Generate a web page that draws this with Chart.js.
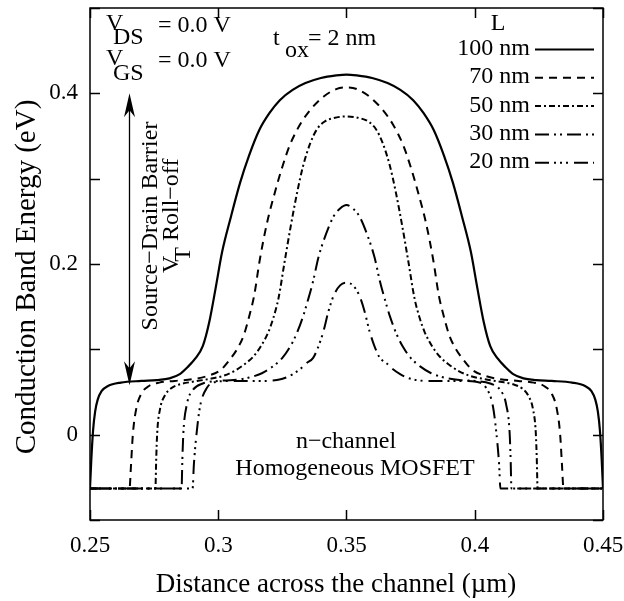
<!DOCTYPE html>
<html>
<head>
<meta charset="utf-8">
<script src="https://cdn.jsdelivr.net/npm/chart.js@4.4.1/dist/chart.umd.min.js"></script>
<style>
  html, body { margin: 0; padding: 0; background: #fff; }
  #wrap { width: 624px; height: 601px; }
</style>
</head>
<body>
<div id="wrap"><canvas id="c" width="624" height="601"></canvas></div>
<script>
// Gate lengths shown in the legend
const gateLengths = ['100 nm', '70 nm', '50 nm', '30 nm', '20 nm'];

// Conduction band profile, L = 100 nm
const x100 = [0.2500, 0.2505, 0.2512, 0.2520, 0.2530, 0.2545, 0.2570, 0.2620, 0.2700, 0.2760, 0.2810, 0.2850, 0.2880, 0.2910, 0.2940, 0.2965, 0.2990, 0.3015, 0.3050, 0.3085, 0.3120, 0.3160, 0.3200, 0.3240, 0.3290, 0.3340, 0.3400, 0.3460, 0.3500,
              0.3540, 0.3600, 0.3660, 0.3710, 0.3760, 0.3800, 0.3840, 0.3880, 0.3915, 0.3950, 0.3985, 0.4010, 0.4035, 0.4060, 0.4090, 0.4120, 0.4150, 0.4190, 0.4240, 0.4300, 0.4380, 0.4430, 0.4455, 0.4470, 0.4480, 0.4488, 0.4495, 0.4500];
const y100 = [-0.063, -0.030, 0.005, 0.027, 0.041, 0.051, 0.057, 0.061, 0.063, 0.064, 0.066, 0.071, 0.079, 0.089, 0.104, 0.132, 0.172, 0.214, 0.256, 0.295, 0.327, 0.357, 0.377, 0.392, 0.404, 0.412, 0.418, 0.421, 0.422,
              0.421, 0.418, 0.412, 0.404, 0.392, 0.377, 0.357, 0.327, 0.295, 0.256, 0.214, 0.172, 0.132, 0.104, 0.089, 0.079, 0.071, 0.066, 0.064, 0.063, 0.061, 0.057, 0.051, 0.041, 0.027, 0.005, -0.030, -0.063];

// L = 70 nm
const x70 = [0.2500, 0.2654, 0.2660, 0.2667, 0.2680, 0.2700, 0.2730, 0.2770, 0.2830, 0.2900, 0.2960, 0.3010, 0.3045, 0.3075, 0.3100, 0.3120, 0.3140, 0.3162, 0.3190, 0.3220, 0.3250, 0.3280, 0.3320, 0.3360, 0.3410, 0.3460, 0.3500,
             0.3540, 0.3590, 0.3640, 0.3680, 0.3720, 0.3750, 0.3780, 0.3810, 0.3838, 0.3860, 0.3880, 0.3900, 0.3925, 0.3955, 0.3990, 0.4040, 0.4100, 0.4170, 0.4230, 0.4270, 0.4300, 0.4320, 0.4333, 0.4340, 0.4346, 0.4500];
const y70 = [-0.063, -0.063, -0.035, 0.000, 0.030, 0.048, 0.057, 0.061, 0.063, 0.065, 0.069, 0.076, 0.088, 0.101, 0.117, 0.138, 0.163, 0.205, 0.248, 0.283, 0.314, 0.340, 0.364, 0.381, 0.396, 0.405, 0.407,
             0.405, 0.396, 0.381, 0.364, 0.340, 0.314, 0.283, 0.248, 0.205, 0.163, 0.138, 0.117, 0.101, 0.088, 0.076, 0.069, 0.065, 0.063, 0.061, 0.057, 0.048, 0.030, 0.000, -0.035, -0.063, -0.063];

// L = 50 nm
const x50 = [0.2500, 0.2755, 0.2758, 0.2762, 0.2773, 0.2790, 0.2815, 0.2850, 0.2900, 0.2960, 0.3020, 0.3065, 0.3100, 0.3135, 0.3165, 0.3195, 0.3215, 0.3235, 0.3260, 0.3283, 0.3307, 0.3330, 0.3358, 0.3385, 0.3415, 0.3450, 0.3500,
             0.3550, 0.3585, 0.3615, 0.3642, 0.3670, 0.3693, 0.3717, 0.3740, 0.3765, 0.3785, 0.3805, 0.3835, 0.3865, 0.3900, 0.3935, 0.3980, 0.4040, 0.4100, 0.4150, 0.4185, 0.4210, 0.4227, 0.4238, 0.4242, 0.4245, 0.4500];
const y50 = [-0.063, -0.063, -0.030, 0.002, 0.030, 0.045, 0.054, 0.059, 0.062, 0.065, 0.069, 0.075, 0.082, 0.091, 0.103, 0.120, 0.137, 0.160, 0.205, 0.245, 0.283, 0.314, 0.341, 0.358, 0.367, 0.371, 0.373,
             0.371, 0.367, 0.358, 0.341, 0.314, 0.283, 0.245, 0.205, 0.160, 0.137, 0.120, 0.103, 0.091, 0.082, 0.075, 0.069, 0.065, 0.062, 0.059, 0.054, 0.045, 0.030, 0.002, -0.030, -0.063, -0.063];

// L = 30 nm
const x30 = [0.2500, 0.2857, 0.2860, 0.2864, 0.2878, 0.2900, 0.2940, 0.3000, 0.3060, 0.3120, 0.3170, 0.3213, 0.3250, 0.3280, 0.3305, 0.3330, 0.3350, 0.3370, 0.3390, 0.3420, 0.3450, 0.3475, 0.3500,
             0.3525, 0.3550, 0.3580, 0.3610, 0.3630, 0.3650, 0.3670, 0.3695, 0.3720, 0.3750, 0.3787, 0.3830, 0.3880, 0.3940, 0.4000, 0.4060, 0.4100, 0.4122, 0.4136, 0.4140, 0.4143, 0.4500];
const y30 = [-0.063, -0.063, -0.030, 0.002, 0.036, 0.052, 0.060, 0.063, 0.064, 0.067, 0.072, 0.080, 0.090, 0.103, 0.118, 0.138, 0.158, 0.180, 0.207, 0.235, 0.256, 0.265, 0.269,
             0.265, 0.256, 0.235, 0.207, 0.180, 0.158, 0.138, 0.118, 0.103, 0.090, 0.080, 0.072, 0.067, 0.064, 0.063, 0.060, 0.052, 0.036, 0.002, -0.030, -0.063, -0.063];

// L = 20 nm
const x20 = [0.2500, 0.2900, 0.2905, 0.2915, 0.2929, 0.2956, 0.2995, 0.3050, 0.3120, 0.3180, 0.3229, 0.3265, 0.3291, 0.3320, 0.3345, 0.3370, 0.3390, 0.3410, 0.3430, 0.3450, 0.3475, 0.3500,
             0.3525, 0.3550, 0.3570, 0.3590, 0.3610, 0.3630, 0.3655, 0.3680, 0.3709, 0.3735, 0.3771, 0.3820, 0.3880, 0.3950, 0.4005, 0.4044, 0.4071, 0.4085, 0.4095, 0.4100, 0.4500];
const y20 = [-0.063, -0.063, -0.035, 0.000, 0.033, 0.055, 0.062, 0.063, 0.063, 0.063, 0.064, 0.067, 0.071, 0.077, 0.084, 0.090, 0.103, 0.121, 0.145, 0.163, 0.175, 0.178,
             0.175, 0.163, 0.145, 0.121, 0.103, 0.090, 0.084, 0.077, 0.071, 0.067, 0.064, 0.063, 0.063, 0.063, 0.062, 0.055, 0.033, 0.000, -0.035, -0.063, -0.063];

// Axis ticks
const xTickValues = [0.25, 0.30, 0.35, 0.40, 0.45];
const yTickValues = [-0.1, 0, 0.1, 0.2, 0.3, 0.4, 0.5];
const yLabelled = [0, 0.2, 0.4];

const seriesX = [x100, x70, x50, x30, x20];
const seriesY = [y100, y70, y50, y30, y20];
const dashes = [[], [8, 6], [6, 3, 2, 3], [14, 5, 2, 4, 2, 5], [14, 5, 2, 4, 2, 4, 2, 6]];

const SERIF = '"Liberation Serif", "Times New Roman", serif';

const datasets = seriesX.map((xs, i) => ({
  label: gateLengths[i],
  data: xs.map((x, k) => ({ x: x, y: seriesY[i][k] })),
  borderColor: '#000',
  borderWidth: i === 0 ? 2.2 : 2,
  borderDash: dashes[i],
  pointRadius: 0,
  fill: false,
  cubicInterpolationMode: 'monotone'
}));

function font(size) { return size + 'px ' + SERIF; }

// Frame, inward ticks, annotations and the legend
const decor = {
  id: 'decor',
  afterDraw(chart) {
    const ctx = chart.ctx;
    const a = chart.chartArea;
    const xs = chart.scales.x, ys = chart.scales.y;
    ctx.save();
    ctx.strokeStyle = '#000';
    ctx.fillStyle = '#000';
    ctx.lineWidth = 1.5;
    ctx.setLineDash([]);
    ctx.strokeRect(a.left, a.top, a.right - a.left, a.bottom - a.top);

    const T = 10;
    ctx.beginPath();
    xTickValues.forEach(v => {
      const p = Math.round(xs.getPixelForValue(v)) + 0.5;
      ctx.moveTo(p, a.bottom); ctx.lineTo(p, a.bottom - T);
      ctx.moveTo(p, a.top); ctx.lineTo(p, a.top + T);
    });
    yTickValues.forEach(v => {
      const p = Math.round(ys.getPixelForValue(v)) + 0.5;
      ctx.moveTo(a.left, p); ctx.lineTo(a.left + T, p);
      ctx.moveTo(a.right, p); ctx.lineTo(a.right - T, p);
    });
    ctx.stroke();

    ctx.textBaseline = 'alphabetic';
    ctx.textAlign = 'left';
    const put = (s, x, y, size, align) => {
      ctx.font = font(size);
      ctx.textAlign = align || 'left';
      ctx.fillText(s, x, y);
    };

    // Bias conditions
    put('V', 106, 30, 24); put('DS', 113, 44, 24); put('= 0.0 V', 158, 32, 24);
    put('V', 106, 65, 24); put('GS', 113, 80, 24); put('= 0.0 V', 158, 67, 24);
    // Oxide thickness
    put('t', 273, 45, 24); put('ox', 285, 57, 24); put('= 2 nm', 308, 45, 24);
    // Device description
    put('n\u2212channel', 346, 448, 24, 'center');
    put('Homogeneous MOSFET', 355, 475, 24, 'center');

    // Legend
    put('L', 498, 30, 24, 'center');
    gateLengths.forEach((lab, i) => {
      const base = 55 + i * 28.3;
      put(lab, 530, base, 24, 'right');
      ctx.beginPath();
      ctx.lineWidth = 2;
      ctx.setLineDash(dashes[i]);
      ctx.moveTo(535, base - 5.5);
      ctx.lineTo(594, base - 5.5);
      ctx.stroke();
    });
    ctx.setLineDash([]);

    // Barrier height arrow
    const ax = Math.round(xs.getPixelForValue(0.2652)) + 0.5;
    const yTop = ys.getPixelForValue(0.400);
    const yBot = ys.getPixelForValue(0.058);
    ctx.lineWidth = 1.3;
    ctx.beginPath();
    ctx.moveTo(ax, yTop + 8); ctx.lineTo(ax, yBot - 8);
    ctx.stroke();
    const head = (tipY, dir) => {
      ctx.beginPath();
      ctx.moveTo(ax, tipY);
      ctx.lineTo(ax - 5.5, tipY + dir * 24);
      ctx.lineTo(ax, tipY + dir * 17);
      ctx.lineTo(ax + 5.5, tipY + dir * 24);
      ctx.closePath();
      ctx.fill();
    };
    head(yTop, 1);
    head(yBot, -1);

    // Rotated annotation beside the arrow
    ctx.save();
    ctx.translate(157, 226);
    ctx.rotate(-Math.PI / 2);
    put('Source\u2212Drain Barrier', 0, 0, 24, 'center');
    ctx.restore();

    ctx.save();
    ctx.translate(178, 273);
    ctx.rotate(-Math.PI / 2);
    ctx.font = font(24);
    ctx.textAlign = 'left';
    ctx.fillText('V', 0, 0);
    const vw = ctx.measureText('V').width;
    ctx.fillText('T', vw - 6, 12);
    const tw = ctx.measureText('T').width;
    ctx.fillText(' Roll\u2212off', vw - 6 + tw, 0);
    ctx.restore();

    // Axis titles
    put('Distance across the channel (\u00b5m)', 336, 592, 27, 'center');
    ctx.save();
    ctx.translate(35, 277);
    ctx.rotate(-Math.PI / 2);
    put('Conduction Band Energy (eV)', 0, 0, 29, 'center');
    ctx.restore();

    ctx.restore();
  }
};

new Chart(document.getElementById('c').getContext('2d'), {
  type: 'line',
  data: { datasets: datasets },
  options: {
    responsive: false,
    animation: false,
    devicePixelRatio: 1,
    layout: { padding: { left: 0, right: 21, top: 8, bottom: 0 } },
    plugins: { legend: { display: false }, tooltip: { enabled: false } },
    scales: {
      x: {
        type: 'linear', min: 0.25, max: 0.45,
        afterBuildTicks: s => { s.ticks = xTickValues.map(v => ({ value: v })); },
        afterFit: s => { s.height = 81; s.paddingLeft = 0; s.paddingRight = 0; },
        grid: { display: false, drawTicks: false },
        border: { display: false },
        ticks: {
          color: '#000', padding: 12, maxRotation: 0, autoSkip: false,
          font: { family: SERIF, size: 23 },
          callback: v => String(Number(v.toFixed(2)))
        }
      },
      y: {
        type: 'linear', min: -0.1, max: 0.5,
        afterBuildTicks: s => { s.ticks = yTickValues.map(v => ({ value: v })); },
        afterFit: s => { s.width = 90; s.paddingTop = 0; s.paddingBottom = 0; },
        grid: { display: false, drawTicks: false },
        border: { display: false },
        ticks: {
          color: '#000', padding: 12, autoSkip: false,
          font: { family: SERIF, size: 23 },
          callback: v => yLabelled.includes(Number(v.toFixed(2))) ? String(Number(v.toFixed(2))) : ''
        }
      }
    }
  },
  plugins: [decor]
});
</script>
</body>
</html>
